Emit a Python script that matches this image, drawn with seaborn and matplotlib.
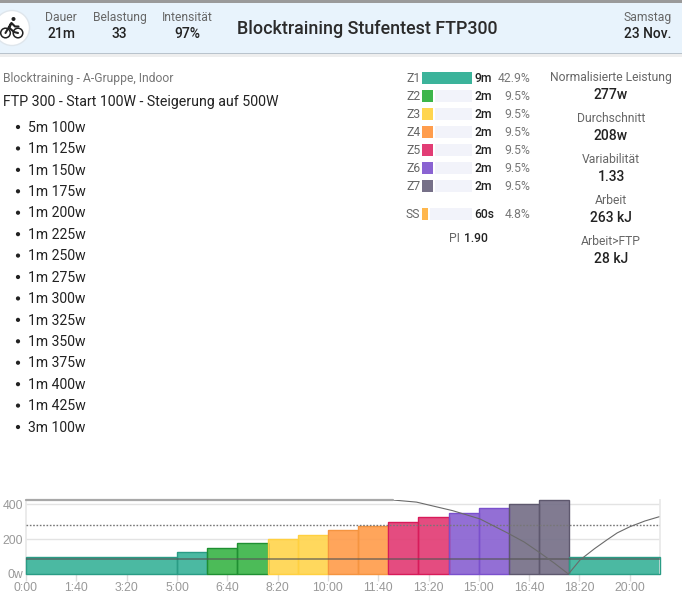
import matplotlib
matplotlib.use("Agg")
import matplotlib.pyplot as plt
from matplotlib.patches import Rectangle, Circle
import numpy as np
import pandas as pd
import seaborn as sns

sns.set_theme(style="white")
plt.rcParams['font.family'] = ['Roboto', 'DejaVu Sans']

# ---- data ----
block_durations = [300, 60, 60, 60, 60, 60, 60, 60, 60, 60, 60, 60, 60, 60, 180]
block_watts = [100, 125, 150, 175, 200, 225, 250, 275, 300, 325, 350, 375, 400, 425, 100]
block_zones = ["Z1", "Z1", "Z2", "Z2", "Z3", "Z3", "Z4", "Z4", "Z5", "Z5", "Z6", "Z6", "Z7", "Z7", "Z1"]
wbal_time = [0, 729, 776, 848, 902, 956, 990, 1021, 1050, 1078, 1101, 1130, 1154, 1175, 1200, 1230, 1258]
wbal_value = [423, 423, 411, 362, 315, 236, 183, 122, 62, 0, 80, 145, 194, 235, 270, 303, 327]
norm_power = 280
lthr_line = 87
x_tick_seconds = [0, 100, 200, 300, 400, 500, 600, 700, 800, 900, 1000, 1100, 1200]
x_tick_labels = ["0:00", "1:40", "3:20", "5:00", "6:40", "8:20", "10:00", "11:40", "13:20", "15:00", "16:40", "18:20", "20:00"]
y_ticks = [0, 200, 400]
y_tick_labels = ["0w", "200", "400"]

zone_names = ["Z1", "Z2", "Z3", "Z4", "Z5", "Z6", "Z7", "SS"]
zone_times = ["9m", "2m", "2m", "2m", "2m", "2m", "2m", "60s"]
zone_pcts = [42.9, 9.5, 9.5, 9.5, 9.5, 9.5, 9.5, 4.8]
zone_colors = {"Z1": "#3BB39A", "Z2": "#3DB54A", "Z3": "#FFD54F", "Z4": "#FF9D4D",
               "Z5": "#E23D75", "Z6": "#8A63D2", "Z7": "#767088", "SS": "#FFB74D"}
zone_edges = {"Z1": "#2A9C85", "Z2": "#1F8F32", "Z3": "#FFD040", "Z4": "#F59440",
              "Z5": "#D81B5A", "Z6": "#7A50CC", "Z7": "#5E586E", "SS": "#FFB74D"}

header_stats = [("Dauer", "21m", 61), ("Belastung", "33", 119.5), ("Intensität", "97%", 187)]
side_stats = [("Normalisierte Leistung", "277w", 611, 77, 94), ("Durchschnitt", "208w", 611, 118, 135),
              ("Variabilität", "1.33", 611, 159, 176), ("Arbeit", "263 kJ", 611, 200, 217),
              ("Arbeit>FTP", "28 kJ", 611, 241, 258)]
workout_lines = ["5m 100w", "1m 125w", "1m 150w", "1m 175w", "1m 200w", "1m 225w", "1m 250w", "1m 275w",
                 "1m 300w", "1m 325w", "1m 350w", "1m 375w", "1m 400w", "1m 425w", "3m 100w"]

W, H = 682, 603
fig = plt.figure(figsize=(W / 100, H / 100), dpi=100, facecolor="white")


def px_axes(left, top, right, bottom, **kw):
    return fig.add_axes([left / W, 1 - bottom / H, (right - left) / W, (bottom - top) / H], **kw)


# page-level canvas in pixel coordinates
bg = px_axes(0, 0, W, H)
bg.set_xlim(0, W)
bg.set_ylim(H, 0)
bg.axis("off")
bg.add_patch(Rectangle((0, 0), W, 3, color="#9a9a9a", lw=0))
bg.add_patch(Rectangle((0, 53), W, 4, color="#eeeeee", lw=0))
bg.add_patch(Rectangle((0, 3), W, 50, color="#E8F3FC", lw=0))
bg.add_patch(Rectangle((0, 52.5), W, 1.2, color="#b9c3cc", lw=0))


def T(x, y, s, size=8.7, color="#666666", ha="center", weight="normal", **kw):
    bg.text(x, y + 0.7, s, fontsize=size, color=color, ha=ha, va="center", fontweight=weight, **kw)


# bike icon
bg.add_patch(Circle((12, 28), 17.5, fc="white", ec="#dfe6ec", lw=1))
for cx in (5.5, 18):
    bg.add_patch(Circle((cx, 33), 4.8, fc="none", ec="#222222", lw=1.1))
bg.add_patch(Circle((13.5, 19), 2, fc="#222222", lw=0))
bg.plot([5.5, 11, 9.5, 14, 18], [33, 23.5, 28, 32, 33], color="#222222", lw=1.5, solid_capstyle="round")
bg.plot([11.5, 15, 18.5], [23, 26.5, 26.5], color="#222222", lw=1.5, solid_capstyle="round")

for label, value, cx in header_stats:
    T(cx, 17, label, size=8.7)
    T(cx, 33, value, size=10, color="#222222", weight="medium")
T(367.5, 28, "Blocktraining Stufentest FTP300", size=12.85, color="#2b2b2b", weight="medium")
T(648, 17, "Samstag", size=8.7)
T(648, 33, "23 Nov.", size=10, color="#222222", weight="medium")

T(3, 78, "Blocktraining - A-Gruppe, Indoor", size=8.7, color="#777777", ha="left")
T(3, 101, "FTP 300 - Start 100W - Steigerung auf 500W", size=10.2, color="#222222", ha="left")
for i, line in enumerate(workout_lines):
    y = 127 + i * 21.43
    bg.add_patch(Circle((18, y), 2.1, fc="#222222", lw=0))
    T(28, y, line, size=10.1, color="#222222", ha="left")

for label, value, cx, y1, y2 in side_stats:
    T(cx, y1, label, size=8.7)
    T(cx, y2, value, size=10, color="#222222", weight="medium")

# zone bars
zone_rows = [78, 96, 114, 132, 150, 168, 186, 214]
zax = px_axes(422, 60, 472, 240)
zax.set_xlim(0, 42.9)
zax.set_ylim(240, 60)
zax.axis("off")
zax.patch.set_alpha(0)
for name, pct, row, tm in zip(zone_names, zone_pcts, zone_rows, zone_times):
    if pct < 42.9:
        zax.barh(row, 42.9 - pct - 2, left=pct + 2, height=12, color="#F2F3FA", lw=0)
    T(420.5, row - 0.5, name, size=8.7, ha="right")
    T(474.5, row, tm, size=8.7, color="#222222", ha="left", weight="medium")
    T(530, row, f"{pct}%", size=8.7, color="#777777", ha="right")
for name, pct, row in zip(zone_names, zone_pcts, zone_rows):
    zax.barh(row, pct, height=12, color=zone_colors[name], lw=0)
T(449, 238, "PI", size=8.7, ha="left", color="#666666")
T(464, 238, "1.90", size=8.7, ha="left", color="#222222", weight="medium")

# main chart
ax = px_axes(26, 500, 660, 574)
ax.patch.set_alpha(0)
edges = np.cumsum([0] + block_durations)
for start, dur, watts, zone in zip(edges[:-1], block_durations, block_watts, block_zones):
    ax.bar(start, watts, width=dur, align="edge", color=zone_colors[zone], alpha=0.92, lw=0, zorder=2)
    ax.bar(start, watts, width=dur, align="edge", facecolor="none",
           edgecolor=zone_edges[zone], lw=1, zorder=3, clip_on=False)
ax.axhline(lthr_line, color="#555555", alpha=0.65, lw=1.3, zorder=4)
ax.axhline(norm_power, color="#777777", lw=1.0, ls=(0, (1.2, 1.2)), zorder=4)
line_df = pd.DataFrame({"t": wbal_time, "w": wbal_value})
sns.lineplot(data=line_df, x="t", y="w", color="#6a6a6a", lw=0.8, ax=ax, zorder=5, errorbar=None)
ax.plot([0, 729], [423, 423], color="#a8a8a8", lw=1.6, zorder=5, clip_on=False)
ax.set_xlim(0, 1260)
ax.set_ylim(0, 423)
ax.set_xlabel("")
ax.set_ylabel("")
ax.set_xticks(x_tick_seconds)
ax.set_xticklabels(x_tick_labels, fontsize=8.8, color="#999999", fontfamily="Liberation Sans")
ax.set_yticks(y_ticks)
ax.set_yticklabels(y_tick_labels, fontsize=8.8, color="#999999", fontfamily="Liberation Sans")
ax.tick_params(axis="x", length=5, width=1, color="#dddddd", pad=1, bottom=True)
ax.tick_params(axis="y", length=0, pad=2)
ax.grid(axis="y", color="#e3e3e3", lw=1, zorder=0)
ax.set_axisbelow(True)
for s in ("top", "bottom"):
    ax.spines[s].set_visible(False)
ax.spines["right"].set_color("#e8e8e8")
ax.spines["left"].set_color("#e8e8e8")

fig.savefig("out.png", dpi=100)
